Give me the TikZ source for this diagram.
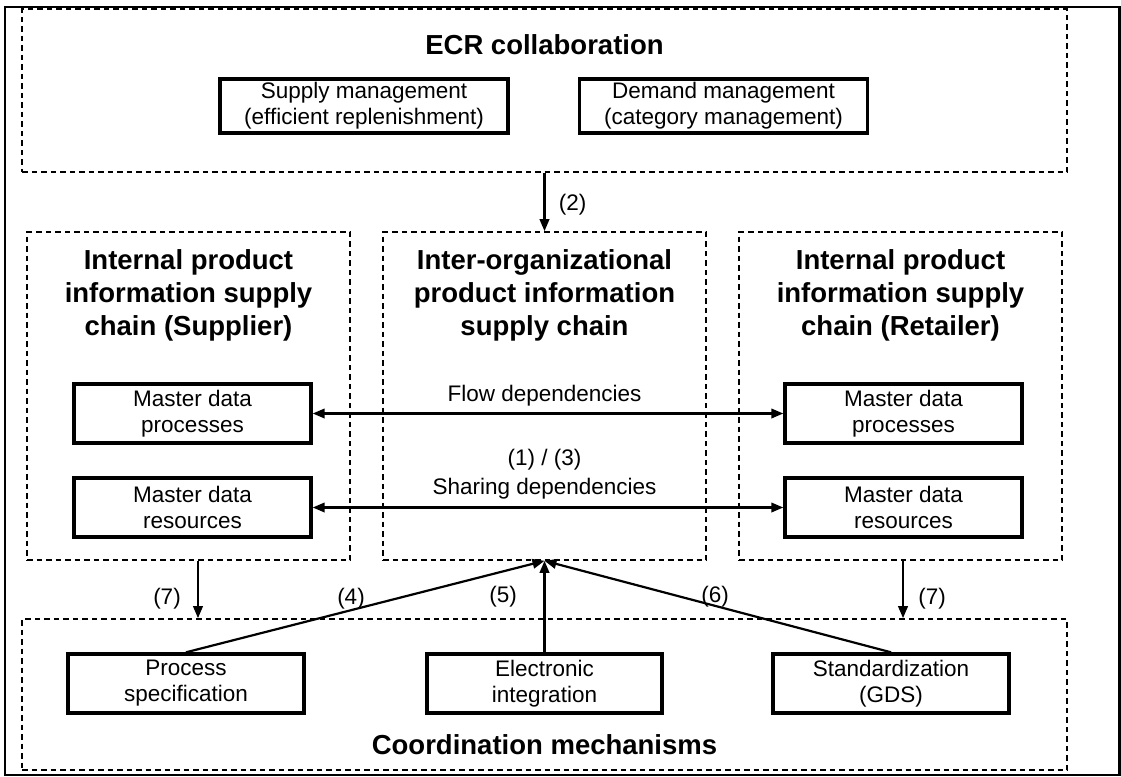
\documentclass[tikz,border=0pt]{standalone}
\usepackage{fontspec}
\setmainfont{Liberation Sans}
\usetikzlibrary{arrows.meta,calc}
\begin{document}
\begin{tikzpicture}[x=1pt,y=-1pt,
  frame/.style={draw, dash pattern=on 5.5pt off 4pt, line width=1.6pt, inner sep=0pt},
  ibox/.style={draw, line width=3.4pt, inner sep=0pt, align=center,
               font=\fontsize{22.5}{26}\selectfont},
  title/.style={align=center, inner sep=0pt, font=\bfseries\fontsize{27.5}{33}\selectfont},
  lbl/.style={inner sep=0pt, font=\fontsize{22.5}{26}\selectfont},
  link/.style={line width=2.2pt, -{Triangle[length=12pt,width=9.5pt]}},
  both/.style={line width=2.2pt, {Triangle[length=12pt,width=9.5pt]}-{Triangle[length=12pt,width=9.5pt]}}]

\useasboundingbox (0,0) rectangle (1121,776);
% outer frame
\draw[line width=2.8pt] (5,7) rectangle (1119.5,775);

% dashed areas
\node[frame, minimum width=1045pt, minimum height=163pt] (ecr) at (544.5,90.5) {};
\node[frame, minimum width=323pt, minimum height=328pt] (lsc) at (188.5,396) {};
\node[frame, minimum width=323pt, minimum height=328pt] (msc) at (544.5,396) {};
\node[frame, minimum width=323pt, minimum height=328pt] (rsc) at (900.5,396) {};
\node[frame, minimum width=1045pt, minimum height=151pt] (coord) at (544.5,694.5) {};

% titles
\node[title] (ecrt) at (544.5,45) {ECR collaboration};
\node[title] (lsct) at (188.5,295) {Internal product\\information supply\\chain (Supplier)};
\node[title] (msct) at (544.5,295) {Inter-organizational\\product information\\supply chain};
\node[title] (rsct) at (900.5,295) {Internal product\\information supply\\chain (Retailer)};
\node[title] (coordt) at (544.5,745) {Coordination mechanisms};

% solid boxes
\node[ibox, minimum width=288pt, minimum height=54pt] (supply) at (364,106) {Supply management\\(efficient replenishment)};
\node[ibox, minimum width=288pt, minimum height=54pt] (demand) at (723.5,106) {Demand management\\(category management)};
\node[ibox, minimum width=237pt, minimum height=59pt] (lproc) at (192.5,413.5) {Master data\\processes};
\node[ibox, minimum width=237pt, minimum height=59pt] (lres) at (192.5,507.5) {Master data\\resources};
\node[ibox, minimum width=237pt, minimum height=59pt] (rproc) at (903.5,413.5) {Master data\\processes};
\node[ibox, minimum width=237pt, minimum height=59pt] (rres) at (903.5,507.5) {Master data\\resources};
\node[ibox, minimum width=236pt, minimum height=59pt] (ps) at (186,683.5) {Process\\specification};
\node[ibox, minimum width=235pt, minimum height=59pt] (ei) at (544.5,683.5) {Electronic\\integration};
\node[ibox, minimum width=236pt, minimum height=59pt] (std) at (891,683.5) {Standardization\\(GDS)};

% connectors
\draw[link] (ecr.south) -- (msc.north);
\draw[both] (lproc.east) -- (rproc.west);
\draw[both] (lres.east) -- (rres.west);
\draw[link] ([xshift=9.5pt]lsc.south) -- ([xshift=9.5pt]lsc.south |- coord.north);
\draw[link] ([xshift=2.5pt]rsc.south) -- ([xshift=2.5pt]rsc.south |- coord.north);
\draw[link] (ps.north) -- (msc.south);
\draw[link] (ei.north) -- (msc.south);
\draw[link] (std.north) -- (msc.south);

% labels
\node[lbl] (l2) at (572.5,205) {(2)};
\node[lbl] (flow) at (544.5,396) {Flow dependencies};
\node[lbl] (l13) at (544.5,460) {(1) / (3)};
\node[lbl] (share) at (544.5,489) {Sharing dependencies};
\node[lbl] (l7a) at (167,599) {(7)};
\node[lbl] (l7b) at (932,599) {(7)};
\node[lbl] (l4) at (351,599) {(4)};
\node[lbl] (l5) at (503,597) {(5)};
\node[lbl] (l6) at (715,597) {(6)};
\end{tikzpicture}
\end{document}
